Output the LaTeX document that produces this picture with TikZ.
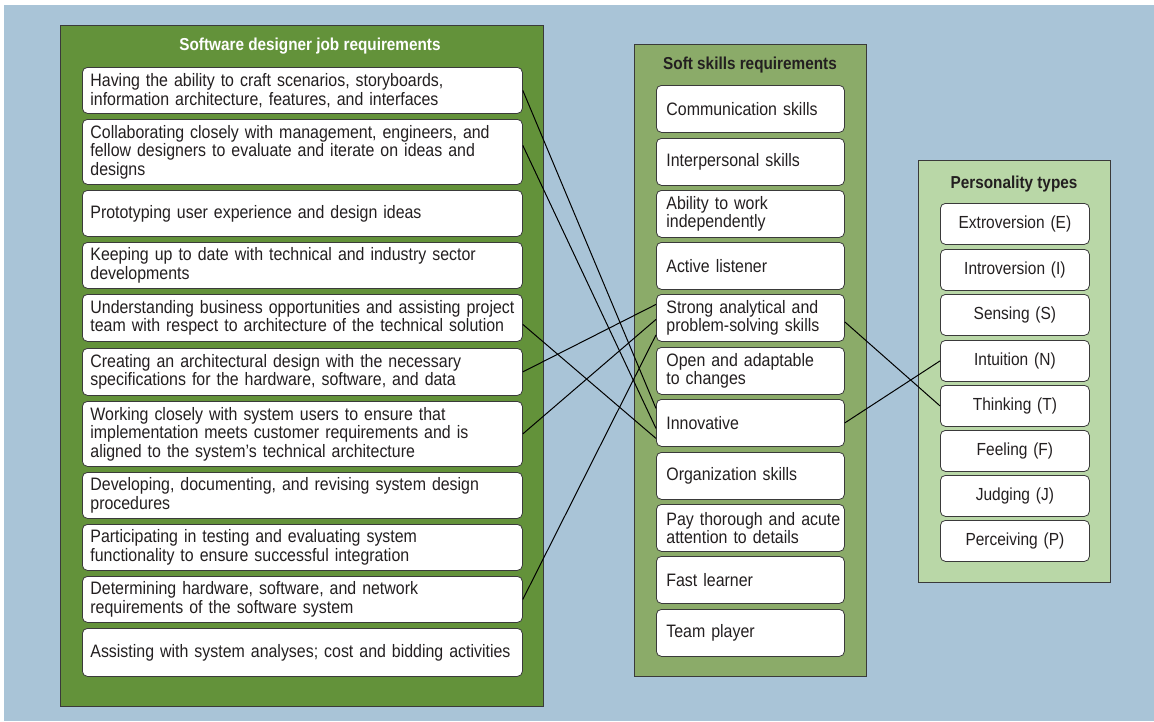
\documentclass[tikz,border=0pt]{standalone}
\usepackage{fontspec}
\setmainfont{Liberation Sans}[FakeStretch=0.885]
\usetikzlibrary{calc}
\definecolor{bg}{HTML}{A9C4D7}
\definecolor{pA}{HTML}{63923A}
\definecolor{pB}{HTML}{8BAB69}
\definecolor{pC}{HTML}{B9D7A7}
\definecolor{edge}{HTML}{3A3A3A}
\definecolor{ink}{HTML}{231F20}
\newcommand\oneline[1]{\mbox{#1}}
\begin{document}
\begin{tikzpicture}[x=1pt,y=-1pt,
  panel/.style={draw=edge, line width=0.9pt, anchor=north west, inner sep=0pt},
  ptitle/.style={font=\fontsize{17.3}{18}\selectfont\bfseries, inner sep=0pt},
  box/.style={draw=edge, fill=white, rounded corners=5pt, line width=0.8pt, anchor=north west,
    font=\fontsize{18}{18.5}\selectfont, text=ink, inner ysep=0pt},
  lbox/.style={box, minimum width=440pt, text width=424pt, inner xsep=8pt, align=left},
  mbox/.style={box, minimum width=188pt, minimum height=47pt, text width=168pt, inner xsep=10pt, align=left},
  rbox/.style={box, minimum width=149pt, minimum height=41pt, text width=141pt, inner xsep=4pt, align=center,
    font=\fontsize{17.5}{18}\selectfont},
  conn/.style={draw=black, line width=1pt}
]
\useasboundingbox (0,0) rectangle (1154,721);
\fill[bg] (4,5) rectangle (1154,721);

% panels
\node[panel, fill=pA, minimum width=483pt, minimum height=681pt] (P1) at (60,25) {};
\node[panel, fill=pB, minimum width=232pt, minimum height=632pt] (P2) at (634,44) {};
\node[panel, fill=pC, minimum width=192pt, minimum height=422pt] (P3) at (918,160) {};

\node[ptitle, text=white] (T1) at (310,46) {Software designer job requirements};
\node[ptitle, text=ink] (T2) at (750,65) {Soft skills requirements};
\node[ptitle, text=ink] (T3) at (1014,184) {Personality types};

% left boxes
\node[lbox, minimum height=46pt] (L1) at (82,67) {Having the ability to craft scenarios, storyboards,\\information architecture, features, and interfaces};
\node[lbox, minimum height=65pt] (L2) at (82,119) {Collaborating closely with management, engineers, and\\fellow designers to evaluate and iterate on ideas and\\designs};
\node[lbox, minimum height=46pt] (L3) at (82,190) {Prototyping user experience and design ideas};
\node[lbox, minimum height=46pt] (L4) at (82,242) {Keeping up to date with technical and industry sector\\developments};
\node[lbox, minimum height=47pt] (L5) at (82,294) {\oneline{Understanding business opportunities and assisting project}\\\oneline{team with respect to architecture of the technical solution}};
\node[lbox, minimum height=47pt] (L6) at (82,348) {Creating an architectural design with the necessary\\specifications for the hardware, software, and data};
\node[lbox, minimum height=65pt] (L7) at (82,401) {Working closely with system users to ensure that\\implementation meets customer requirements and is\\aligned to the system’s technical architecture};
\node[lbox, minimum height=46pt] (L8) at (82,472) {Developing, documenting, and revising system design\\procedures};
\node[lbox, minimum height=46pt] (L9) at (82,524) {Participating in testing and evaluating system\\functionality to ensure successful integration};
\node[lbox, minimum height=46pt] (L10) at (82,576) {Determining hardware, software, and network\\requirements of the software system};
\node[lbox, minimum height=48pt] (L11) at (82,628) {\oneline{Assisting with system analyses; cost and bidding activities}};

% middle boxes
\node[mbox] (M1) at (656,85) {Communication skills};
\node[mbox] (M2) at (656,138) {Interpersonal skills};
\node[mbox] (M3) at (656,190) {Ability to work\\independently};
\node[mbox] (M4) at (656,242) {Active listener};
\node[mbox] (M5) at (656,294) {\oneline{Strong analytical and}\\\oneline{problem-solving skills}};
\node[mbox] (M6) at (656,347) {Open and adaptable\\to changes};
\node[mbox] (M7) at (656,399) {Innovative};
\node[mbox] (M8) at (656,452) {Organization skills};
\node[mbox] (M9) at (656,504) {\oneline{Pay thorough and acute}\\\oneline{attention to details}};
\node[mbox] (M10) at (656,556) {Fast learner};
\node[mbox] (M11) at (656,609) {Team player};

% right boxes
\node[rbox] (R1) at (940,203) {Extroversion (E)};
\node[rbox] (R2) at (940,249) {Introversion (I)};
\node[rbox] (R3) at (940,294) {Sensing (S)};
\node[rbox] (R4) at (940,340) {Intuition (N)};
\node[rbox] (R5) at (940,385) {Thinking (T)};
\node[rbox] (R6) at (940,430) {Feeling (F)};
\node[rbox] (R7) at (940,475) {Judging (J)};
\node[rbox] (R8) at (940,520) {Perceiving (P)};

% connectors
\draw[conn] (L1.east) -- ($(M7.west)+(0,-14.5)$);
\draw[conn] ($(L2.east)+(0,-6.5)$) -- ($(M7.west)+(0,5.5)$);
\draw[conn] ($(L5.east)+(0,6.5)$) -- ($(M7.west)+(0,15.5)$);
\draw[conn] (L6.east) -- ($(M5.west)+(0,-13.5)$);
\draw[conn] (L7.east) -- ($(M5.west)+(0,1.5)$);
\draw[conn] (L10.east) -- ($(M5.west)+(0,17)$);
\draw[conn] ($(M5.east)+(0,4)$) -- (R5.west);
\draw[conn] (M7.east) -- (R4.west);
\end{tikzpicture}
\end{document}
